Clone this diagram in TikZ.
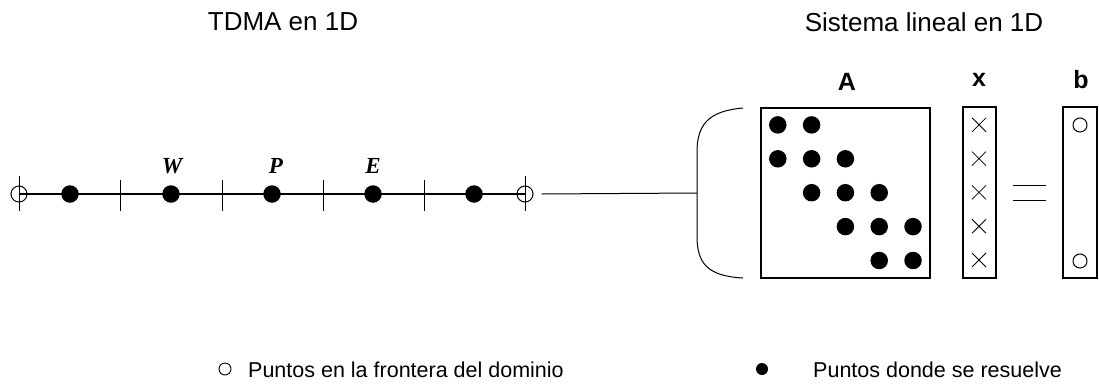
\documentclass[tikz,border=0pt]{standalone}
\usepackage{fontspec}
\setmainfont{Liberation Serif}
\setsansfont{Liberation Sans}
\begin{document}
\begin{tikzpicture}[x=1pt,y=-1pt,
  solved/.style={circle,fill=black,inner sep=0pt,minimum size=17.5pt},
  bndpt/.style={circle,draw,line width=1pt,inner sep=0pt,minimum size=16pt},
  face/.style={line width=0.9pt},
  grid/.style={line width=1.6pt},
  ptlabel/.style={font=\fontsize{23}{27}\selectfont\bfseries\itshape},
  title/.style={font=\sffamily\fontsize{26}{31}\selectfont},
  veclabel/.style={font=\sffamily\bfseries\fontsize{25}{30}\selectfont},
  legend/.style={font=\sffamily\fontsize{21.5}{26}\selectfont,anchor=west,inner sep=0pt},
  box/.style={draw,line width=1.1pt},
  entry/.style={circle,fill=black,inner sep=0pt,minimum size=17.5pt},
  rhs/.style={circle,draw,line width=1pt,inner sep=0pt,minimum size=14pt}]
\useasboundingbox (0,0) rectangle (1099,386);

% titles
\node[title] (t1) at (283,22) {TDMA en 1D};
\node[title] (t2) at (924,22) {Sistema lineal en 1D};

% 1D grid line
\draw[grid] (19,194) -- (525,194);
\node[bndpt] (bw) at (19,194) {};
\node[bndpt] (be) at (525,194) {};
\draw[face] (19,176) -- (19,211);
\draw[face] (525,176) -- (525,211);
\foreach \x in {120,222,323,424}
  \draw[face] (\x,180) -- (\x,211);
\node[solved] (n1) at (70,194) {};
\node[solved] (nW) at (171,194) {};
\node[solved] (nP) at (272,194) {};
\node[solved] (nE) at (373,194) {};
\node[solved] (n5) at (474,194) {};
\node[ptlabel] at (172,166) {W};
\node[ptlabel] at (276,166) {P};
\node[ptlabel] at (373,166) {E};

% brace and link to the matrix
\coordinate (br) at (697,193);
\draw[line width=1pt] (743,108) .. controls (708,111) and (697,125) .. (697,152)
  -- (697,236) .. controls (697,264) and (708,276) .. (743,278);
\draw[line width=1pt] (be.east) ++(8,0) -- (br);

% matrix A
\node[veclabel] (lA) at (847,82) {A};
\node[box,minimum width=169pt,minimum height=170pt,inner sep=0pt] (A) at (845.5,193) {};
\foreach \r/\c in {1/1,1/2,2/1,2/2,2/3,3/2,3/3,3/4,4/3,4/4,4/5,5/4,5/5}
  \node[entry] (a\r\c) at ({744+33.8*\c},{91+33.9*\r}) {};

% unknown vector x
\node[veclabel] (lx) at (979,80) {x};
\node[box,minimum width=33pt,minimum height=171pt,inner sep=0pt] (X) at (979.5,192.5) {};
\foreach \r in {1,...,5}
  \draw[line width=0.8pt] ({979-7},{91+33.8*\r-7}) -- ({979+7},{91+33.8*\r+7})
                         ({979-7},{91+33.8*\r+7}) -- ({979+7},{91+33.8*\r-7});

% equal sign
\draw[line width=1pt] (1013,185) -- (1046,185) (1013,200) -- (1046,200);

% right-hand side b
\node[veclabel] (lb) at (1081,80) {b};
\node[box,minimum width=34pt,minimum height=171pt,inner sep=0pt] (B) at (1080,192.5) {};
\node[rhs] (b1) at (1080,125) {};
\node[rhs] (b5) at (1080,261) {};

% legend
\node[circle,draw,line width=0.9pt,inner sep=0pt,minimum size=12pt] (lg1) at (225,369) {};
\node[legend] (lt1) at (248,370) {Puntos en la frontera del dominio};
\node[circle,fill=black,inner sep=0pt,minimum size=12pt] (lg2) at (762,369) {};
\node[legend] (lt2) at (813,370) {Puntos donde se resuelve};
\end{tikzpicture}
\end{document}
